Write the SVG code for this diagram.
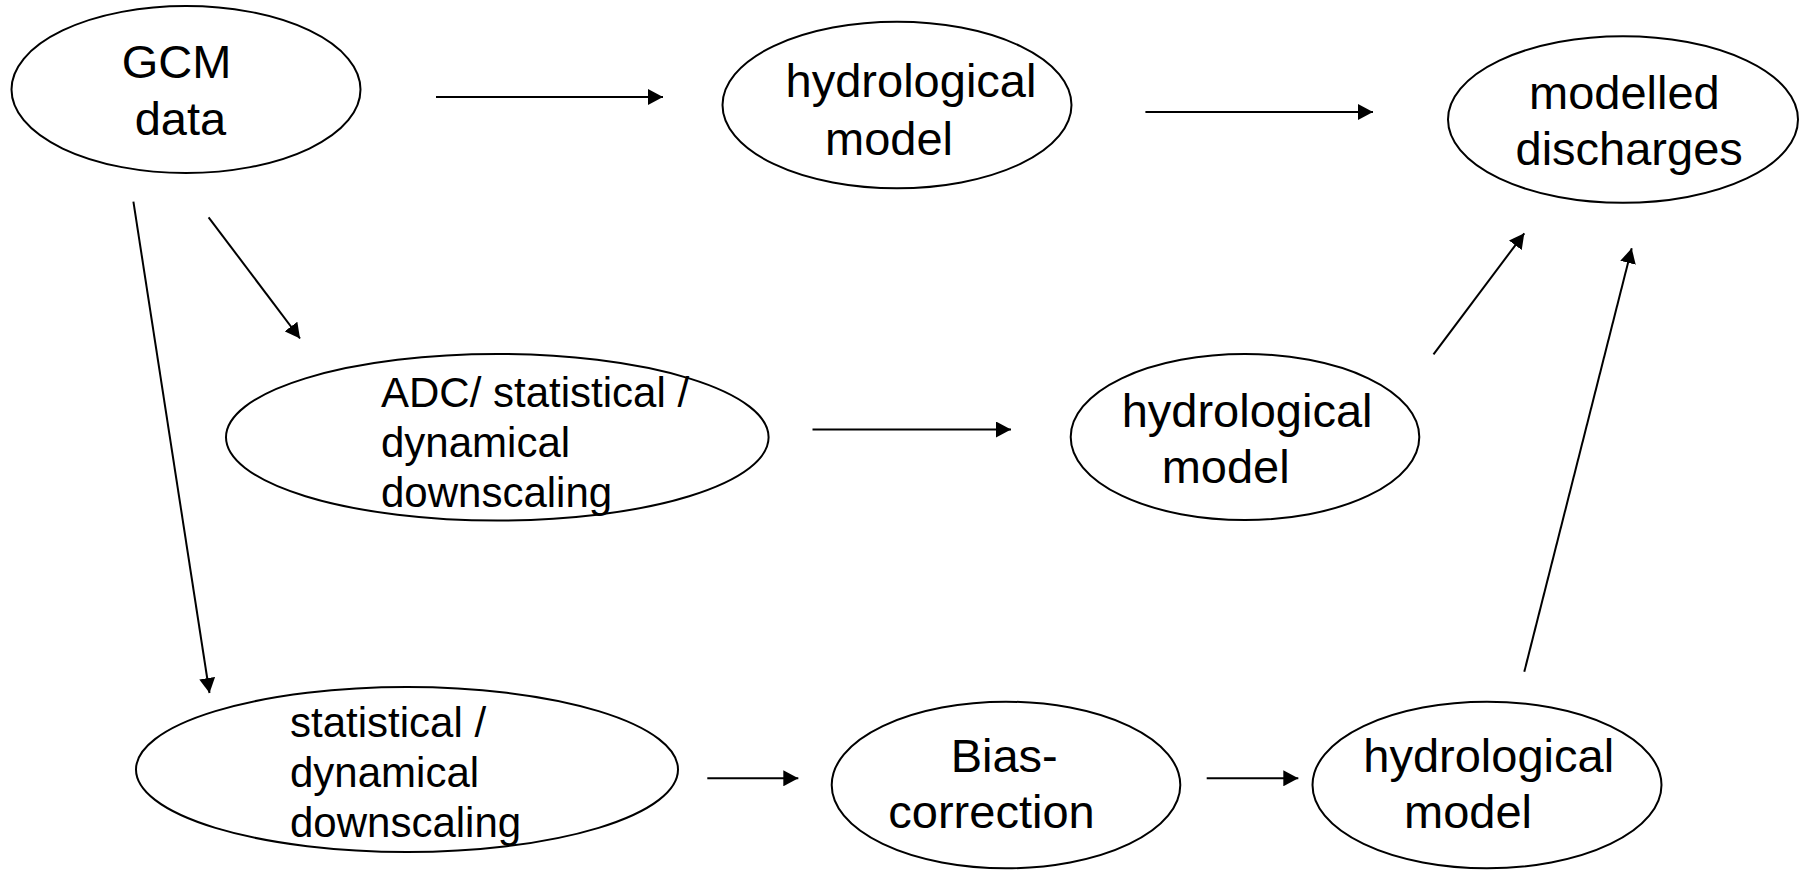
<svg xmlns="http://www.w3.org/2000/svg" width="1803" height="870" viewBox="0 0 1803 870">
  <style>
    .node { fill: #ffffff; stroke: #000000; stroke-width: 2; }
    .lbl { font-family: "Liberation Sans", Arial, sans-serif; font-size: 47px; fill: #000000; }
    .lbl-s { font-family: "Liberation Sans", Arial, sans-serif; font-size: 42px; fill: #000000; }
    .conn { stroke: #000000; stroke-width: 2; fill: none; marker-end: url(#arrow); }
  </style>
  <defs>
    <marker id="arrow" markerUnits="userSpaceOnUse" markerWidth="16" markerHeight="16" refX="15" refY="8" orient="auto">
      <path d="M0,0 L15,8 L0,16 z" fill="#000000"/>
    </marker>
  </defs>
  <rect x="0" y="0" width="1803" height="870" fill="#ffffff"/>

  <g id="connectors">
    <line class="conn" x1="436" y1="97" x2="663" y2="97"/>
    <line class="conn" x1="208.6" y1="217.3" x2="300" y2="338.5"/>
    <line class="conn" x1="133.4" y1="201.7" x2="209.5" y2="693"/>
    <line class="conn" x1="1145.4" y1="112" x2="1373" y2="112"/>
    <line class="conn" x1="812.5" y1="429.5" x2="1011" y2="429.5"/>
    <line class="conn" x1="1433.5" y1="354.3" x2="1524.3" y2="233.3"/>
    <line class="conn" x1="707.3" y1="778.3" x2="798.3" y2="778.3"/>
    <line class="conn" x1="1206.7" y1="778.3" x2="1298.3" y2="778.3"/>
    <line class="conn" x1="1524.3" y1="671.7" x2="1631.7" y2="248.3"/>
  </g>

  <g id="gcm-data">
    <ellipse class="node" cx="186" cy="89.5" rx="174.5" ry="83.5"/>
    <text class="lbl" x="121.7" y="78.3">GCM</text>
    <text class="lbl" x="134.7" y="135">data</text>
  </g>

  <g id="hydro-model-1">
    <ellipse class="node" cx="897" cy="105" rx="174.5" ry="83.3"/>
    <text class="lbl" x="785.6" y="97">hydrological</text>
    <text class="lbl" x="825" y="155">model</text>
  </g>

  <g id="modelled-discharges">
    <ellipse class="node" cx="1623" cy="119.5" rx="175" ry="83.3"/>
    <text class="lbl" x="1529" y="108.5">modelled</text>
    <text class="lbl" x="1515.5" y="165">discharges</text>
  </g>

  <g id="adc-downscaling">
    <ellipse class="node" cx="497.3" cy="437.3" rx="271.3" ry="83.3"/>
    <text class="lbl-s" x="381" y="407">ADC/ statistical /</text>
    <text class="lbl-s" x="381" y="457">dynamical</text>
    <text class="lbl-s" x="381" y="507">downscaling</text>
  </g>

  <g id="hydro-model-2">
    <ellipse class="node" cx="1245" cy="437" rx="174.3" ry="83"/>
    <text class="lbl" x="1121.7" y="426.7">hydrological</text>
    <text class="lbl" x="1161.7" y="482.7">model</text>
  </g>

  <g id="stat-downscaling">
    <ellipse class="node" cx="407" cy="769.5" rx="271" ry="82.5"/>
    <text class="lbl-s" x="290" y="736.7">statistical /</text>
    <text class="lbl-s" x="290" y="787">dynamical</text>
    <text class="lbl-s" x="290" y="837">downscaling</text>
  </g>

  <g id="bias-correction">
    <ellipse class="node" cx="1006" cy="785" rx="174.3" ry="83.3"/>
    <text class="lbl" x="950.7" y="771.7">Bias-</text>
    <text class="lbl" x="888.3" y="828.3">correction</text>
  </g>

  <g id="hydro-model-3">
    <ellipse class="node" cx="1487" cy="785" rx="174.5" ry="83.3"/>
    <text class="lbl" x="1363.3" y="771.7">hydrological</text>
    <text class="lbl" x="1404" y="828.3">model</text>
  </g>
</svg>
